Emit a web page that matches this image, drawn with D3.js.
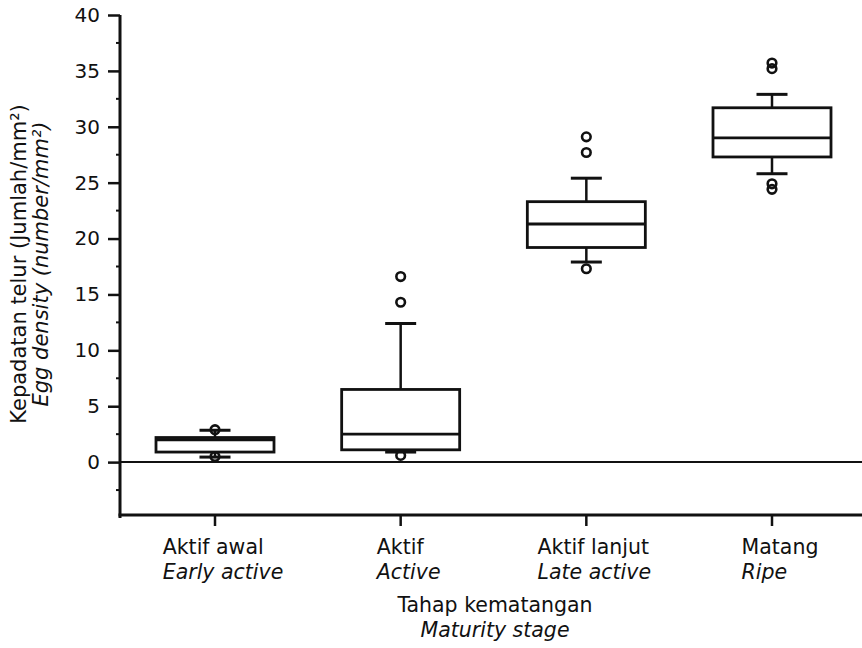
<!DOCTYPE html>
<html lang="id">
<head>
<meta charset="UTF-8">
<title>Kepadatan telur</title>
<script src="https://cdn.jsdelivr.net/npm/d3@7"></script>
<style>
  body { margin: 0; background: #fff; }
  text { font-family: "DejaVu Sans", sans-serif; fill: #111; }
</style>
</head>
<body>
<svg width="862" height="648" id="mainsvg"></svg>
<script>
  // data
  const stages = ['Aktif awal', 'Aktif', 'Aktif lanjut', 'Matang'];
  const stagesEn = ['Early active', 'Active', 'Late active', 'Ripe'];
  const q1 = [0.9, 1.1, 19.2, 27.3];
  const median = [2.0, 2.5, 21.3, 29.0];
  const q3 = [2.2, 6.5, 23.3, 31.7];
  const whiskLo = [0.45, 0.9, 17.9, 25.8];
  const whiskHi = [2.85, 12.4, 25.4, 32.9];
  const outliers = [[2.9, 0.5], [16.6, 14.3, 0.6], [29.1, 27.7, 17.3], [35.7, 35.2, 24.9, 24.4]];
  const yTicks = [0, 5, 10, 15, 20, 25, 30, 35, 40];

  const svg = d3.select('#mainsvg');
  const W = +svg.attr('width');

  const y = d3.scaleLinear().domain([-5, 40]).range([518, 15]);
  const x = d3.scalePoint().domain(stages).range([215, 772]);
  const axisX = 120;
  const boxW = 118, capW = 31;
  const fs = 20.5;

  // y axis
  const yAxis = d3.axisLeft(y).tickValues(yTicks).tickSize(12).tickPadding(8);
  const gy = svg.append('g').attr('transform', `translate(${axisX},0)`).call(yAxis);
  gy.select('.domain').remove();
  gy.selectAll('.tick line').attr('stroke', '#111').attr('stroke-width', 2.5);
  gy.selectAll('.tick text').attr('font-size', 20).attr('font-family', '"DejaVu Sans", sans-serif').attr('fill', '#111');
  // minor ticks
  svg.append('g').selectAll('line')
    .data(d3.range(-2.5, 40, 5))
    .join('line')
    .attr('x1', axisX - 4).attr('x2', axisX)
    .attr('y1', d => y(d)).attr('y2', d => y(d))
    .attr('stroke', '#111').attr('stroke-width', 2);
  svg.append('line')
    .attr('x1', axisX).attr('x2', axisX)
    .attr('y1', y(40)).attr('y2', y(-5))
    .attr('stroke', '#111').attr('stroke-width', 3);

  // x axis
  const baseY = y(-5) - 3;
  svg.append('line')
    .attr('x1', axisX - 1.5).attr('x2', W)
    .attr('y1', baseY).attr('y2', baseY)
    .attr('stroke', '#111').attr('stroke-width', 3);
  svg.append('g').selectAll('line')
    .data(stages)
    .join('line')
    .attr('x1', d => x(d)).attr('x2', d => x(d))
    .attr('y1', baseY).attr('y2', baseY + 11)
    .attr('stroke', '#111').attr('stroke-width', 2.5);

  // zero line
  svg.append('line')
    .attr('x1', axisX).attr('x2', W)
    .attr('y1', y(0)).attr('y2', y(0))
    .attr('stroke', '#111').attr('stroke-width', 2);

  // category labels: two left-aligned lines, block roughly centred on the tick
  const lab = svg.append('g').selectAll('g')
    .data(stages)
    .join('g');
  lab.append('text').attr('y', 554).attr('font-size', fs).text(d => d);
  lab.append('text').attr('y', 579).attr('font-size', fs).attr('font-style', 'italic')
    .text((d, i) => stagesEn[i]);
  lab.attr('transform', function(d) {
    const w = d3.max(d3.select(this).selectAll('text').nodes(), n => n.getComputedTextLength());
    return `translate(${x(d) + 8 - w / 2},0)`;
  });

  // axis titles
  svg.append('text').attr('x', 495).attr('y', 612).attr('text-anchor', 'middle')
    .attr('font-size', fs).text('Tahap kematangan');
  svg.append('text').attr('x', 495).attr('y', 637).attr('text-anchor', 'middle')
    .attr('font-size', fs).attr('font-style', 'italic').text('Maturity stage');
  const yt = svg.append('text').attr('transform', 'translate(0,264) rotate(-90)')
    .attr('text-anchor', 'middle').attr('font-size', 21);
  yt.append('tspan').attr('x', 0).attr('y', 26).text('Kepadatan telur (Jumlah/mm²)');
  yt.append('tspan').attr('x', 0).attr('y', 48).attr('font-style', 'italic').text('Egg density (number/mm²)');

  // boxes
  const box = svg.append('g').selectAll('g')
    .data(stages)
    .join('g')
    .attr('transform', d => `translate(${x(d)},0)`);

  box.append('line')
    .attr('y1', (d, i) => y(whiskHi[i])).attr('y2', (d, i) => y(q3[i]))
    .attr('stroke', '#111').attr('stroke-width', 2.5);
  box.append('line')
    .attr('y1', (d, i) => y(whiskLo[i])).attr('y2', (d, i) => y(q1[i]))
    .attr('stroke', '#111').attr('stroke-width', 2.5);
  box.append('line')
    .attr('x1', -capW / 2).attr('x2', capW / 2)
    .attr('y1', (d, i) => y(whiskHi[i])).attr('y2', (d, i) => y(whiskHi[i]))
    .attr('stroke', '#111').attr('stroke-width', 3);
  box.append('line')
    .attr('x1', -capW / 2).attr('x2', capW / 2)
    .attr('y1', (d, i) => y(whiskLo[i])).attr('y2', (d, i) => y(whiskLo[i]))
    .attr('stroke', '#111').attr('stroke-width', 3);
  box.append('rect')
    .attr('x', -boxW / 2).attr('width', boxW)
    .attr('y', (d, i) => y(q3[i]))
    .attr('height', (d, i) => y(q1[i]) - y(q3[i]))
    .attr('fill', '#fff').attr('stroke', '#111').attr('stroke-width', 2.8);
  box.append('line')
    .attr('x1', -boxW / 2).attr('x2', boxW / 2)
    .attr('y1', (d, i) => y(median[i])).attr('y2', (d, i) => y(median[i]))
    .attr('stroke', '#111').attr('stroke-width', 2.8);
  box.selectAll('circle')
    .data((d, i) => outliers[i])
    .join('circle')
    .attr('r', 4.3)
    .attr('cy', v => y(v))
    .attr('fill', 'none').attr('stroke', '#111').attr('stroke-width', 2.6);
</script>
</body>
</html>
